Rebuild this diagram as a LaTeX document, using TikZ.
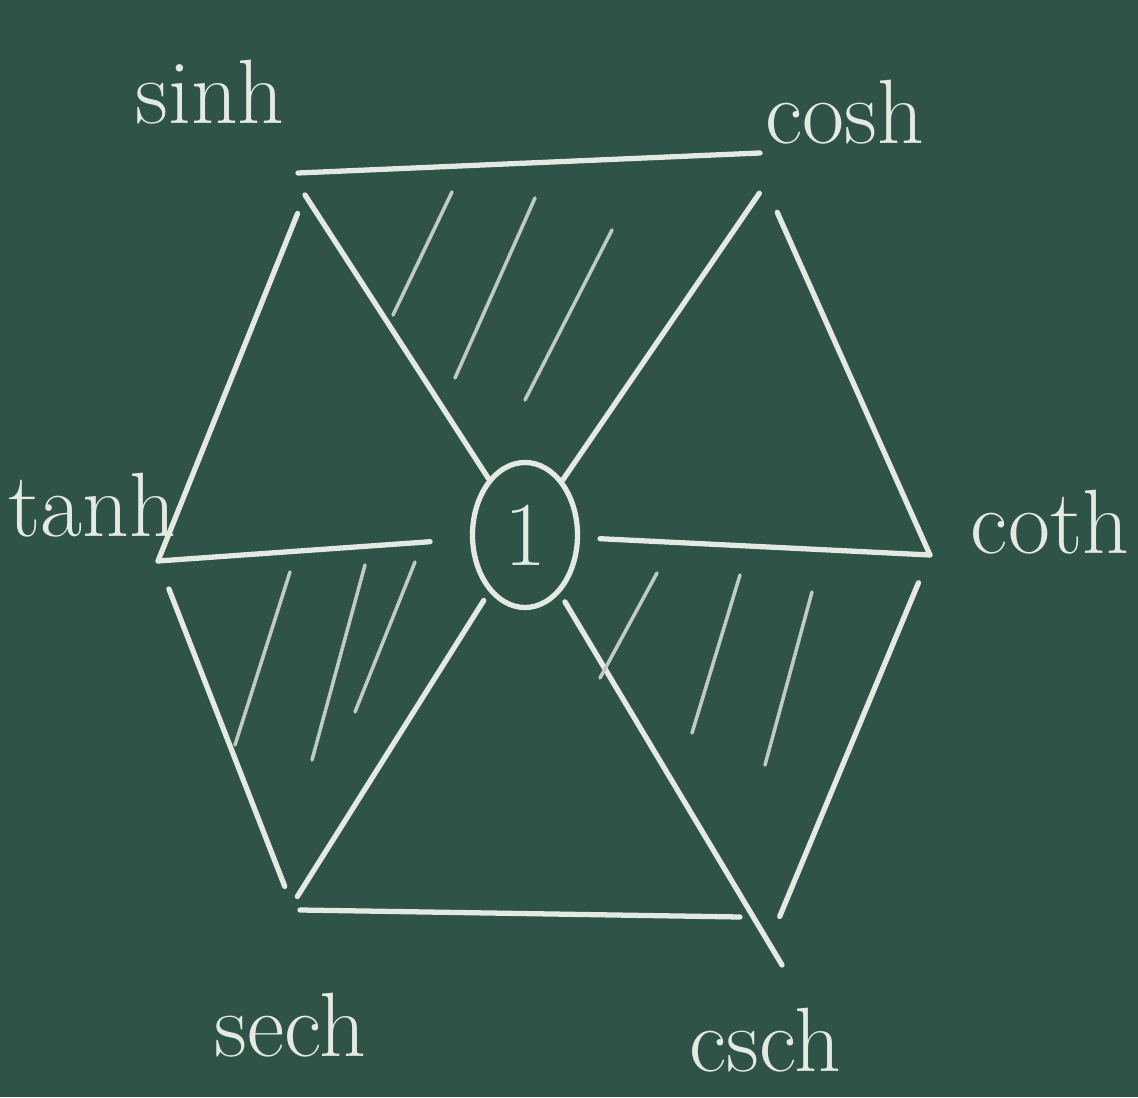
\documentclass[tikz,border=0pt]{standalone}
\usepackage{tikz}
\usetikzlibrary{shapes.geometric,calc}
\definecolor{board}{RGB}{47,84,71}
\definecolor{chalk}{RGB}{228,234,226}
\tikzset{
  hxv/.style={coordinate},
  hxedge/.style={draw=chalk,line width=1.5pt,line cap=round},
  hxhatch/.style={draw=chalk!80!board,line width=1pt,line cap=round},
  hxlbl/.style={text=chalk,font=\fontsize{26}{28}\selectfont,inner sep=1pt},
  hxone/.style={ellipse,draw=chalk,line width=1.5pt,minimum width=10.5mm,
    minimum height=14.5mm,inner sep=0pt,text=chalk,font=\fontsize{26}{28}\selectfont},
}

\begin{document}
\begin{tikzpicture}
  \fill[board] (0,0) rectangle (11.38,10.97);
  \useasboundingbox (0,0) rectangle (11.38,10.97);
  \node[hxv] (vsinh) at (3.05,9.02) {};
  \node[hxv] (vcosh) at (7.65,9.12) {};
  \node[hxv] (vcoth) at (9.30,5.42) {};
  \node[hxv] (vcsch) at (7.72,1.62) {};
  \node[hxv] (vsech) at (2.92,1.92) {};
  \node[hxv] (vtanh) at (1.58,5.36) {};
  \node[hxone] (one) at (5.25,5.62) {1};
  \node[hxlbl] (sinh) at (2.10,10.05) {sinh};
  \node[hxlbl] (cosh) at (8.45,9.85) {cosh};
  \node[hxlbl] (tanh) at (0.92,5.92) {tanh};
  \node[hxlbl] (coth) at (10.50,5.75) {coth};
  \node[hxlbl] (sech) at (2.90,0.72) {sech};
  \node[hxlbl] (csch) at (7.65,0.57) {csch};
  \draw[hxedge] ($(vsinh)+(-0.07,0.22)$) -- ($(vcosh)+(-0.05,0.32)$);
  \draw[hxedge,shorten <=2mm] (vsinh) -- (vtanh);
  \draw[hxedge,shorten <=3mm] (vcosh) -- (vcoth);
  \draw[hxedge,shorten <=3mm,shorten >=2mm] (vcoth) -- (vcsch);
  \draw[hxedge,shorten <=3mm,shorten >=2mm] (vtanh) -- (vsech);
  \draw[hxedge] ($(vsech)+(0.08,-0.05)$) -- ($(vcsch)+(-0.32,0.18)$);
  \draw[hxedge] (vsinh) -- (one);
  \draw[hxedge,shorten <=1mm] (vcosh) -- (one);
  \draw[hxedge,shorten >=4mm] (vtanh) -- (one);
  \draw[hxedge,shorten <=2mm] (one) -- (vcoth);
  \draw[hxedge,shorten <=1mm,shorten >=1mm] (one) -- (vsech);
  \draw[hxedge,shorten <=1mm] (one) -- ($(vcsch)+(0.1,-0.3)$);
  \foreach \ax/\ay/\bx/\by in {3.93/7.82/4.52/9.05, 4.55/7.19/5.35/8.99,
      5.25/6.97/6.12/8.67,
      2.35/3.52/2.90/5.25, 3.12/3.37/3.65/5.32, 3.55/3.85/4.15/5.35,
      6.00/4.19/6.57/5.24, 6.92/3.64/7.40/5.22, 7.65/3.32/8.12/5.05}
    \draw[hxhatch] (\ax,\ay) -- (\bx,\by);
\end{tikzpicture}
\end{document}
